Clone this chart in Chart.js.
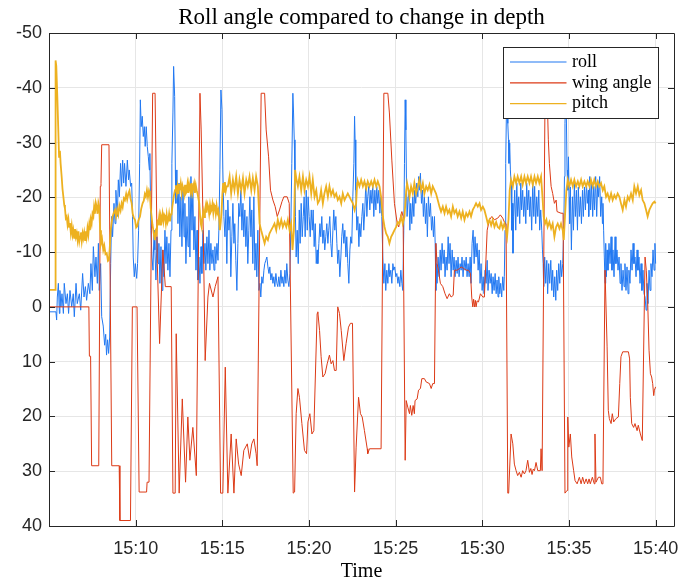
<!DOCTYPE html>
<html>
<head>
<meta charset="utf-8">
<script src="https://cdn.jsdelivr.net/npm/chart.js@4/dist/chart.umd.min.js"></script>
<style>
  html, body { margin: 0; padding: 0; background: #ffffff; }
  #wrap { width: 680px; height: 582px; }
</style>
</head>
<body>
<div id="wrap"><canvas id="chart" width="680" height="582"></canvas></div>
<script>
// Time is given in minutes after 15:00.
const tickMinutes = [10, 15, 20, 25, 30, 35, 40];
const tickLabels = ['15:10', '15:15', '15:20', '15:25', '15:30', '15:35', '15:40'];
const chartTitle = 'Roll angle compared to change in depth';

// Roll angle (deg)
const rollT = [
  5.00,5.40,5.44,5.48,5.54,5.60,5.63,5.69,5.75,5.83,5.88,5.98,6.06,6.13,6.21,6.31,6.40,6.46,6.56,6.63,
  6.75,6.83,6.94,7.02,7.10,7.17,7.27,7.36,7.42,7.50,7.56,7.65,7.71,7.79,7.85,7.90,7.98,8.04,8.13,8.21,
  8.27,8.32,8.38,8.44,8.50,8.56,8.61,8.67,8.75,8.81,8.86,8.94,9.00,9.06,9.13,9.19,9.25,9.31,9.36,9.44,
  9.52,9.59,9.63,9.71,9.77,9.82,9.86,9.92,9.98,10.06,10.11,10.17,10.23,10.27,10.32,10.38,10.44,10.50,10.55,10.61,
  10.67,10.73,10.79,10.82,10.88,10.94,11.00,11.06,11.11,11.17,11.23,11.29,11.34,11.40,11.46,11.52,11.57,11.63,11.69,11.75,
  11.80,11.86,11.92,11.98,12.04,12.09,12.15,12.19,12.25,12.29,12.32,12.38,12.44,12.50,12.55,12.61,12.67,12.73,12.79,12.84,
  12.90,12.96,13.02,13.07,13.13,13.19,13.25,13.30,13.36,13.42,13.48,13.54,13.59,13.65,13.71,13.77,13.82,13.88,13.94,14.00,
  14.05,14.11,14.17,14.23,14.28,14.34,14.40,14.46,14.52,14.57,14.63,14.69,14.75,14.80,14.86,14.92,14.98,15.03,15.09,15.15,
  15.21,15.26,
  15.32,15.38,15.44,15.49,15.55,15.61,15.67,15.72,15.78,15.84,15.90,15.95,16.01,16.07,16.13,16.19,16.24,16.30,16.36,16.42,
  16.47,16.53,16.59,16.65,16.70,16.76,16.82,16.88,16.94,16.99,17.05,17.11,17.17,17.22,17.28,17.34,17.40,17.45,17.51,17.57,
  17.63,17.69,17.74,17.80,17.86,17.92,17.97,18.03,18.09,18.15,18.20,18.26,18.32,18.38,18.44,18.49,18.55,18.61,18.67,18.72,
  18.78,18.84,18.90,18.95,19.01,19.07,19.11,19.15,19.19,19.22,19.26,19.32,19.38,19.44,19.49,19.55,19.61,19.67,19.72,19.78,
  19.84,19.90,19.95,20.01,20.07,20.13,20.19,20.24,20.30,20.36,20.42,20.47,
  20.51,20.57,20.63,20.68,20.74,20.80,20.86,20.91,20.97,21.03,21.09,21.14,21.20,21.26,21.32,21.38,21.43,21.49,21.55,21.61,
  21.66,21.72,21.78,21.84,21.89,21.95,22.01,22.07,22.13,22.18,22.24,22.30,22.36,22.41,22.47,22.53,22.59,22.63,22.66,22.70,
  22.76,22.82,22.88,22.93,22.99,23.05,23.11,23.16,23.22,23.28,23.34,23.39,23.45,23.51,23.57,23.63,23.68,23.74,23.80,23.86,
  23.91,23.97,24.03,24.09,24.14,24.20,24.26,24.32,24.38,24.43,24.49,24.55,24.61,24.66,24.72,24.78,24.84,24.89,24.95,25.01,
  25.07,25.13,25.18,25.24,25.30,25.36,25.41,25.47,25.51,25.55,25.59,25.63,25.66,
  25.72,25.76,25.82,25.87,25.93,25.99,26.05,26.10,26.16,26.22,26.28,26.33,26.39,26.43,26.49,26.55,26.60,26.66,26.72,26.78,
  26.83,26.89,26.95,27.01,27.07,27.12,27.18,27.24,27.28,27.32,27.35,27.39,27.45,27.51,27.57,27.62,27.68,27.74,27.80,27.85,
  27.91,27.97,28.03,28.08,28.14,28.20,28.26,28.32,28.37,28.43,28.49,28.55,28.60,28.66,28.72,28.78,28.83,28.89,28.95,29.01,
  29.07,29.12,29.18,29.24,29.30,29.35,29.41,29.47,29.53,29.58,29.64,29.70,29.76,29.82,29.87,29.93,29.99,30.05,30.10,30.16,
  30.22,30.28,30.33,30.39,30.45,30.51,30.57,30.62,30.68,30.74,30.80,30.85,
  30.91,30.95,31.01,31.06,31.12,31.18,31.24,31.27,31.31,31.35,31.39,31.43,31.47,31.51,31.54,31.58,31.62,31.66,31.70,31.74,
  31.77,31.81,31.87,31.93,31.99,32.04,32.10,32.16,32.22,32.27,32.33,32.39,32.45,32.51,32.56,32.62,32.68,32.74,32.79,32.85,
  32.91,32.97,33.02,33.08,33.14,33.20,33.26,33.31,33.37,33.43,33.47,33.51,33.54,33.60,33.66,33.72,33.77,33.83,33.89,33.95,
  34.01,34.06,34.12,34.18,34.24,34.29,34.35,34.41,34.47,34.52,34.58,34.64,34.70,34.74,34.77,34.81,34.85,34.89,34.93,34.97,
  35.01,35.04,35.08,35.14,35.20,35.26,35.31,35.37,35.43,35.49,35.54,35.60,35.66,35.72,35.78,35.83,35.89,35.95,36.01,36.06,
  36.12,36.14,36.20,36.25,36.31,36.37,36.43,36.48,36.54,36.60,36.66,36.71,36.77,36.83,36.89,36.93,36.96,37.00,37.04,37.08,
  37.12,37.16,37.20,37.25,37.31,37.37,37.43,37.48,37.54,37.60,37.66,37.71,37.77,37.83,37.89,37.95,38.00,38.06,38.12,38.18,
  38.23,38.29,38.35,38.41,38.46,38.52,38.58,38.64,38.70,38.75,38.81,38.87,38.93,38.98,39.04,39.10,39.16,39.21,39.27,39.33,
  39.39,39.45,39.50,39.56,39.62,39.68,39.73,39.79,39.85,39.91,39.96,40.00
];
const rollV = [
  0.9,0.9,2.4,-1.8,-4.3,1.2,-3.0,0,-2.4,1.2,-4.3,-0.6,-2.4,1.2,-3.0,0,-2.4,1.8,-4.3,-0.6,
  -2.4,0.6,-6.1,-1.8,-3.7,-1.2,-4.3,-2.4,-7.9,-3.0,-11.0,-5.5,-9.1,-4.3,-11.6,-3.0,-7.9,1.8,3.5,7.0,
  5.0,8.8,6.0,8.5,5.5,-7.9,-16.5,-12.8,-18.9,-15.2,-21.3,-16.5,-23.2,-20.1,-26.2,-22.0,-26.8,-22.6,-26.2,-22.0,
  -26.8,-23.2,-25.0,-22.0,-22.6,-16.5,-9.1,-5.5,-7.9,-5.2,-7.9,-14.0,-26.2,-37.8,-32.9,-34.8,-31.1,-32.9,-29.3,-32.9,
  -29.3,-27.4,-25.0,-28.0,-14.0,-9.1,-6.7,-14.0,-10.4,-4.9,-12.8,-7.9,-11.6,-4.3,-11.0,-3.0,-10.4,-5.5,-14.0,-7.9,
  -12.8,-6.7,-11.6,-5.5,-14.0,-26.2,-35.4,-43.9,-38.4,-25.0,-18.9,-25.0,-15.2,-22.6,-12.8,-20.1,-11.0,-21.9,-12.8,-18.9,
  -7.9,-16.5,-11.0,-20.1,-9.1,-23.8,-14.0,-21.3,-10.4,-16.5,-6.7,-14.0,-4.9,-9.1,-4.3,-11.0,-6.1,-14.0,-7.9,-11.6,
  -6.7,-12.8,-7.9,-14.0,-6.7,-11.6,-7.9,-10.4,-6.7,-11.0,-7.9,-11.6,-8.5,-14.0,-25.0,-39.6,-36.0,-25.0,-16.5,-12.8,
  -17.7,-7.9,
  -19.5,-14.0,-16.5,-5.5,-12.8,-18.9,-11.6,-15.2,-8.5,-3.0,-11.6,-18.9,-16.5,-21.3,-14.0,-18.9,-12.8,-17.7,-11.0,-16.5,
  -7.9,-14.0,-20.1,-12.8,-17.7,-7.9,-20.1,-6.7,-11.6,-5.5,-14.0,-3.0,-4.3,-1.8,-5.5,-4.3,-6.7,-7.9,-8.5,-9.1,
  -7.3,-6.1,-7.3,-4.9,-6.1,-4.3,-5.5,-3.7,-6.1,-4.3,-3.7,-5.5,-3.7,-6.7,-4.3,-5.5,-3.7,-6.7,-4.3,-7.9,
  -4.9,-3.7,-6.1,-14.0,-26.2,-39.0,-35.4,-30.5,-25.0,-16.5,-9.1,-14.0,-7.9,-17.7,-11.6,-18.9,-12.8,-16.5,-20.1,-12.8,
  -21.3,-14.0,-20.1,-16.5,-12.8,-17.7,-14.0,-17.7,-11.0,-15.2,-7.9,-10.4,
  -7.9,-11.6,-15.2,-12.8,-16.5,-11.6,-14.0,-10.4,-12.8,-15.2,-11.6,-14.0,-16.5,-11.6,-9.1,-14.0,-17.7,-14.0,-16.5,-11.6,
  -7.9,-10.4,-5.5,-9.1,-12.8,-15.2,-11.6,-14.0,-9.1,-12.8,-7.9,-4.3,-10.4,-12.8,-11.6,-20.1,-26.2,-34.8,-30.5,-21.3,
  -14.0,-16.5,-11.0,-15.2,-12.8,-16.5,-18.9,-14.0,-17.7,-22.6,-16.5,-20.1,-22.0,-17.7,-21.3,-18.9,-22.6,-16.5,-21.3,-17.7,
  -22.0,-18.9,-21.3,-17.1,-20.1,-16.5,-9.1,-4.3,-7.9,-3.0,-6.7,-4.3,-7.9,-5.5,-6.7,-4.3,-7.9,-6.7,-7.3,-5.5,
  -6.1,-4.3,-5.5,-3.7,-6.7,-4.3,-3.0,-14.0,-26.2,-37.8,-32.3,-21.3,-16.5,
  -20.1,-21.3,-14.0,-18.9,-15.2,-20.1,-16.5,-21.3,-18.9,-22.6,-20.1,-23.8,-21.3,-24.4,-18.9,-21.3,-16.5,-20.1,-15.2,-18.9,
  -12.8,-20.1,-16.5,-18.9,-14.0,-16.5,-12.8,-16.5,-11.6,-3.0,-7.9,-4.3,-9.1,-5.5,-10.4,-6.7,-11.6,-7.9,-10.4,-5.5,
  -9.1,-6.7,-12.8,-7.9,-11.6,-5.5,-10.4,-6.7,-9.1,-5.5,-8.5,-6.1,-9.1,-5.5,-7.9,-6.7,-9.1,-5.5,-8.5,-6.7,
  -9.1,-5.5,-7.9,-5.5,-9.1,-4.3,-11.6,-14.0,-7.9,-12.8,-9.1,-11.6,-6.7,-10.4,-4.3,-7.9,-3.0,-5.5,-2.4,-6.7,
  -4.3,-8.5,-3.0,-6.7,-4.3,-6.1,-2.4,-5.5,-3.0,-6.1,-2.4,-4.9,
  -1.8,-5.5,-2.4,-4.3,-1.8,-5.5,-3.0,-5.5,-14.0,-26.2,-35.4,-37.8,-33.5,-30.5,-26.2,-29.9,-25.0,-22.6,-14.0,-18.9,
  -9.8,-16.5,-21.3,-14.0,-22.6,-16.5,-20.1,-15.2,-22.6,-17.7,-21.3,-16.5,-20.1,-15.2,-22.6,-17.7,-21.3,-16.5,-20.1,-14.0,
  -22.6,-16.5,-22.0,-15.2,-20.1,-16.5,-21.3,-14.0,-17.7,-14.0,-10.4,-7.9,-3.7,-9.1,-4.3,-8.5,-2.4,-7.9,-4.3,-8.5,
  -3.0,-6.7,-1.8,-5.5,-1.2,-6.7,-3.0,-7.9,-4.3,-8.5,-5.5,-7.9,-14.0,-23.8,-33.5,-38.4,-34.8,-25.0,-21.3,-27.4,
  -20.1,-15.2,-21.9,-10.4,-20.1,-14.0,-22.6,-16.5,-21.3,-14.0,-21.9,-16.5,-20.1,-15.2,-21.3,-16.5,-21.9,-17.7,-22.6,-18.9,
  -21.3,-16.5,-23.8,-17.7,-22.6,-16.5,-22.0,-17.7,-23.8,-16.5,-22.6,-20.1,-23.8,-16.5,-20.1,-15.2,-18.9,-14.0,-9.1,-4.3,
  -11.6,-5.5,-10.4,-6.7,-11.6,-7.9,-12.8,-6.7,-10.4,-5.5,-12.8,-7.9,-10.4,-6.7,-9.1,-4.3,-7.9,-3.0,-6.7,-3.7,
  -7.9,-3.0,-7.3,-2.4,-6.7,-4.3,-10.4,-6.7,-11.6,-7.9,-9.1,-5.5,-10.4,-6.7,-9.1,-4.3,-7.9,-3.0,-6.7,-2.4,
  -1.8,0.6,-4.3,-0.6,-6.7,-3.0,-7.9,-5.5,-10.4,-6.7,-11.6,-7.9
];

// Wing angle (deg)
const wingT = [
  5.00,7.30,7.33,7.40,7.46,7.87,7.96,8.00,8.04,8.46,8.62,9.05,9.09,9.70,9.81,10.08,10.20,10.63,10.66,10.77,
  10.98,11.12,11.25,11.38,11.57,11.71,12.05,12.15,12.28,12.34,12.51,12.69,12.88,13.01,13.13,13.30,13.50,13.71,13.78,13.90,
  14.01,14.17,14.26,14.46,14.59,14.75,14.90,15.03,15.17,15.32,15.51,15.67,15.80,15.94,16.09,16.24,16.44,16.57,16.70,16.82,
  16.95,17.01,17.24,17.44,17.53,17.67,17.78,17.92,18.05,18.17,18.30,18.44,18.55,18.74,18.86,19.09,19.17,19.26,19.36,19.45,
  19.59,19.74,19.86,19.94,20.05,20.17,20.28,20.47,20.51,20.61,20.70,20.80,20.93,21.05,21.18,21.28,21.38,21.47,21.57,21.66,
  21.76,21.86,22.01,22.14,22.28,22.39,22.51,22.63,22.72,22.86,22.97,23.07,23.20,23.36,23.39,23.49,24.16,24.32,24.55,24.64,
  24.78,24.93,25.09,25.18,25.28,25.36,25.43,25.55,25.61,25.70,25.80,25.85,25.93,26.01,26.08,26.12,26.24,26.32,26.43,26.51,
  26.66,26.76,26.95,27.05,27.14,27.24,27.32,27.39,27.47,27.58,27.72,27.85,27.97,28.10,28.20,28.32,28.39,28.55,28.68,28.78,
  28.93,29.07,29.20,29.32,29.39,29.45,29.50,29.55,29.60,29.64,29.70,29.78,29.89,30.03,30.12,30.28,30.41,30.55,30.70,30.89,
  31.04,31.18,31.27,31.37,31.47,31.52,31.66,31.76,31.85,31.95,32.04,32.14,32.24,32.33,32.43,32.52,32.62,32.72,32.80,32.87,
  32.94,33.01,33.10,33.20,33.35,33.39,33.45,33.62,33.74,33.81,33.87,33.97,34.06,34.16,34.26,34.31,34.54,34.66,34.77,34.89,
  34.93,34.99,35.08,35.16,35.27,35.35,35.47,35.60,35.70,35.79,35.89,35.99,36.08,36.16,36.23,36.35,36.46,36.50,36.56,36.70,
  36.81,36.89,36.96,37.08,37.20,37.27,37.33,37.43,37.50,37.58,37.71,37.85,37.93,38.00,38.10,38.43,38.50,38.54,38.62,38.73,
  38.81,38.93,39.00,39.12,39.23,39.39,39.46,39.54,39.62,39.70,39.77,39.83,39.89,39.93,40.00
];
const wingV = [
  0,0,9,9,29,29,-22,-22.5,-29.6,-29.6,29,29,39,39,0,0,33.8,33.8,32,32,
  -39,-39,-7.9,6.7,-10.4,-3.7,-3.7,34,34,4.9,34,16.8,32,20.1,28,22,30.8,-39,-32.3,-14,
  9.8,-1.8,-4.3,-1.8,-3.7,-5.5,34,34,11,34,23.2,34,24.1,28.7,30.8,26.2,25,27.7,25,24.1,
  26.8,29,-39,-39,-32.3,-27.4,-21.3,-19.5,-18.3,-16.5,-17.7,-19.2,-20.1,-20.1,-18.9,34,33.8,19.5,14.9,16.5,
  21.3,26.2,26.8,21,19.5,23.2,22.6,1.2,0.9,4.3,9.1,12.8,12.2,10.4,8.8,10.4,9.8,11.6,11.6,0,
  1.2,4.3,9.8,6.7,3.7,3,3,33.8,25.6,16.5,19.5,20.1,22.6,25.9,26.8,25.9,25.9,-39,-39,-35.4,
  -26.8,-18.9,-15.2,-14.6,-16.5,-17.4,-16.5,28,17.1,18.3,19.5,18,19.8,18,19.5,17.1,16.8,15.2,14.9,13.1,
  13.1,13.7,14,14.9,14,14,-11.6,-7.9,-6.7,-4.3,-3.7,-2.4,-1.5,-2.4,-1.8,-2.1,-6.7,-6.7,-7,-7.3,
  -7,-6.7,-6.7,-6.1,-1.8,0,-1.4,0,-1.2,0,-1.1,-0.9,-2.4,-1.8,-1.8,-14,-15.9,-16.5,-15.9,-16.2,
  -16.8,-16.2,-15.5,-15.2,34,34,23.2,25,28.7,29.9,30.8,30.2,31.1,29.9,30.5,29.9,28,30.2,29.5,30.6,
  29.6,29.9,28.4,29.9,29.9,25.9,29.9,-39,-39,-30.5,-26.2,-22,-20.7,-18.9,-19.5,-17.4,-17.1,-17.1,34,33.5,
  20.1,25.6,23.2,27.4,29.9,31.7,32.3,31.1,32.3,31.1,32.3,31.4,32.3,31.4,32.3,31.1,32.3,23.2,32,31.1,
  31.1,32.3,32.3,-6.7,7.3,18.9,20.4,21.3,19.5,21,20.4,20.1,14,9.1,8.2,8.2,9.5,16.5,21.3,22,
  21.3,22.6,21.6,23.2,24.4,-9.1,-6.7,-1.2,7.9,12.2,12.8,14,16.2,15.2,14.6
];

// Pitch angle (deg)
const pitchT = [
  5.00,5.35,5.38,5.42,5.48,5.53,5.58,5.63,5.67,5.73,5.78,5.83,5.88,5.92,5.97,6.02,6.07,6.12,6.16,6.21,
  6.26,6.31,6.36,6.40,6.45,6.50,6.55,6.60,6.65,6.70,6.75,6.79,6.84,6.89,6.94,6.98,7.03,7.08,7.13,7.17,
  7.22,7.27,7.32,7.36,7.41,7.46,7.51,7.56,7.60,7.65,7.70,7.75,7.80,7.85,7.90,7.95,8.00,8.06,8.13,8.19,
  8.26,8.33,8.40,8.46,8.51,8.56,8.62,8.67,8.74,8.81,8.87,8.94,9.00,9.06,9.13,9.19,9.25,9.32,9.38,9.45,
  9.51,9.58,9.64,9.70,9.77,9.83,9.90,9.96,10.03,10.09,10.16,10.25,10.32,10.40,10.47,10.53,10.59,10.65,10.71,10.77,
  10.82,10.87,10.92,10.97,11.02,11.06,11.11,11.16,11.21,11.26,11.31,11.36,11.41,11.46,11.50,11.55,11.60,11.65,11.69,11.74,
  11.79,11.84,11.88,11.93,11.98,12.03,12.07,12.12,12.17,12.22,12.27,12.32,12.37,12.42,12.47,12.51,12.55,12.60,12.65,12.70,
  12.75,12.80,12.85,12.89,12.94,12.99,13.04,13.08,13.13,13.18,13.23,13.28,13.32,13.37,13.42,13.47,13.52,13.58,13.63,13.67,
  13.72,13.77,13.80,13.85,13.90,13.95,14.00,14.05,14.09,14.14,14.19,14.24,14.29,14.34,14.38,14.43,14.48,14.53,14.57,14.62,
  14.67,14.72,14.77,14.82,14.86,14.91,14.96,15.00,15.05,15.10,15.15,15.20,15.25,
  15.32,15.42,15.51,15.61,15.70,15.80,15.90,15.99,16.09,16.19,16.28,16.38,16.47,16.57,16.67,16.76,16.86,16.95,17.05,17.15,
  17.24,17.34,17.44,17.53,17.63,17.72,17.82,17.92,18.01,18.11,18.20,18.30,18.40,18.49,18.59,18.69,18.78,18.88,18.97,19.05,
  19.13,19.20,19.28,19.36,19.45,19.55,19.65,19.74,19.84,19.94,20.03,20.13,20.22,20.32,20.42,20.51,
  20.61,20.70,20.80,20.89,20.99,21.09,21.18,21.28,21.38,21.47,21.57,21.66,21.76,21.86,21.95,22.05,22.14,22.24,22.34,22.43,
  22.53,22.63,22.72,22.78,22.82,22.91,23.01,23.11,23.20,23.30,23.39,23.49,23.59,23.68,23.78,23.88,23.97,24.07,24.16,24.26,
  24.36,24.45,24.55,24.64,24.74,24.84,24.93,25.03,25.13,25.22,25.32,25.41,25.51,25.61,25.66,25.74,
  25.80,25.89,25.99,26.08,26.18,26.28,26.37,26.47,26.57,26.66,26.76,26.85,26.95,27.05,27.14,27.24,27.33,27.43,27.53,27.62,
  27.72,27.82,27.91,28.01,28.10,28.20,28.30,28.39,28.49,28.58,28.68,28.78,28.87,28.97,29.07,29.16,29.26,29.35,29.45,29.55,
  29.64,29.74,29.84,29.93,30.03,30.12,30.22,30.32,30.41,30.51,30.60,30.70,30.80,30.89,
  30.99,31.08,31.18,31.27,31.37,31.43,31.51,31.58,31.66,31.76,31.85,31.95,32.04,32.14,32.24,32.33,32.43,32.52,32.62,32.72,
  32.81,32.91,33.01,33.10,33.20,33.29,33.39,33.47,33.54,33.62,33.70,33.77,33.87,33.97,34.06,34.16,34.26,34.35,34.45,34.54,
  34.64,34.70,34.77,34.85,34.93,35.02,35.12,35.22,35.31,35.41,35.51,35.60,35.70,35.79,35.89,35.99,36.08,
  36.18,36.27,36.37,36.46,36.56,36.66,36.75,36.85,36.95,37.04,37.14,37.23,37.33,37.43,37.52,37.62,37.71,37.81,37.91,38.00,
  38.10,38.20,38.29,38.39,38.48,38.58,38.68,38.77,38.87,38.97,39.06,39.16,39.25,39.35,39.45,39.54,39.64,39.73,39.83,39.93,
  40.00
];
const pitchV = [
  -3.1,-3.1,-45.0,-44.0,-38.4,-33.0,-27.4,-28.5,-26.2,-23.8,-21.5,-20.1,-18.6,-18.0,-16.2,-16.5,-15.0,-16.0,-14.6,-15.3,
  -13.5,-14.8,-13.2,-14.0,-12.6,-14.2,-12.8,-13.5,-12.2,-13.8,-12.0,-12.8,-13.6,-12.0,-13.4,-12.6,-13.6,-12.2,-13.8,-12.8,
  -14.4,-13.2,-15.0,-14.0,-16.0,-15.2,-17.0,-16.5,-18.2,-17.0,-19.0,-18.3,-17.0,-19.0,-18.3,-14.0,-11.6,-12.4,-10.4,-11.2,
  -9.6,-9.8,-8.4,-8.6,-11.0,-14.0,-15.5,-16.5,-17.2,-17.7,-16.5,-17.8,-16.9,-18.5,-17.6,-18.9,-18.2,-19.8,-19.5,-20.6,
  -19.6,-20.7,-21.2,-19.8,-18.9,-17.0,-16.2,-15.9,-14.5,-14.7,-15.8,-16.5,-17.9,-18.9,-19.4,-20.6,-20.1,-21.3,-20.0,-21.2,
  -20.7,-18.0,-16.5,-15.0,-14.0,-13.0,-12.2,-13.8,-13.4,-15.6,-15.3,-16.6,-15.0,-16.4,-15.8,-17.0,-15.6,-16.8,-16.5,-15.2,
  -16.8,-15.4,-15.8,-17.0,-15.6,-16.9,-16.9,-18.4,-19.5,-20.6,-21.3,-22.2,-20.8,-22.0,-20.6,-22.4,-21.3,-22.5,-20.8,-22.2,
  -21.6,-20.6,-22.3,-20.7,-21.0,-22.4,-20.8,-22.5,-21.6,-20.8,-22.6,-21.0,-21.9,-22.6,-20.8,-22.2,-21.3,-20.5,-19.6,-18.9,
  -16.5,-15.0,-14.6,-16.2,-17.4,-16.4,-17.7,-18.6,-17.2,-18.8,-18.3,-17.0,-18.6,-17.4,-17.7,-18.8,-17.2,-18.6,-18.3,-17.0,
  -18.5,-17.2,-17.7,-16.0,-14.0,-15.5,-17.7,-20.5,-22.6,-21.0,-22.8,-21.2,-22.0,
  -22.0,-23.8,-20.7,-23.2,-21.3,-23.8,-20.7,-23.2,-21.3,-23.5,-20.7,-23.2,-22.0,-23.8,-21.3,-23.5,-21.3,-23.8,-22.0,-15.2,
  -14.0,-12.8,-11.6,-12.8,-12.2,-13.4,-14.0,-14.6,-15.2,-14.0,-15.9,-14.6,-15.9,-14.6,-15.5,-14.6,-15.9,-14.0,-15.2,-10.4,
  -14.0,-25.0,-23.2,-22.0,-23.8,-21.3,-23.8,-21.3,-23.2,-22.0,-23.8,-20.7,-23.2,-20.1,-21.3,-18.9,
  -19.5,-21.3,-18.9,-20.7,-22.0,-20.1,-22.0,-20.4,-21.3,-20.1,-20.7,-19.5,-20.1,-18.9,-20.7,-19.5,-20.1,-20.7,-20.1,-19.5,
  -18.9,-17.7,-18.9,-22.6,-22.9,-22.0,-23.2,-22.0,-22.9,-21.6,-22.9,-22.0,-22.9,-22.0,-23.2,-22.0,-22.9,-22.0,-20.1,-16.5,
  -14.6,-13.4,-12.8,-11.6,-12.8,-13.4,-14.0,-14.6,-15.5,-15.2,-16.5,-15.2,-16.5,-21.3,-22.6,-21.3,
  -20.1,-22.0,-20.7,-22.6,-20.7,-22.0,-23.2,-21.3,-22.6,-20.7,-22.0,-21.3,-22.3,-20.7,-22.0,-21.3,-20.7,-19.5,-18.3,-17.4,
  -18.3,-17.1,-18.3,-17.1,-17.7,-16.5,-18.3,-17.1,-17.7,-16.5,-17.4,-16.2,-17.4,-15.9,-17.1,-16.5,-17.4,-16.5,-17.7,-18.3,
  -18.9,-18.3,-18.9,-17.7,-18.3,-17.7,-16.5,-15.2,-15.9,-14.9,-15.9,-14.6,-15.5,-14.6,
  -14.3,-15.5,-14.3,-15.2,-14.0,-12.8,-15.9,-21.3,-23.2,-22.0,-23.8,-22.6,-23.8,-22.6,-23.8,-22.3,-23.8,-22.6,-23.8,-22.6,
  -23.8,-22.3,-23.8,-22.6,-23.8,-22.6,-23.8,-20.1,-16.5,-15.2,-15.9,-14.6,-15.5,-14.3,-15.2,-12.8,-14.6,-15.2,-14.3,-15.2,
  -14.0,-12.2,-16.5,-21.3,-23.2,-22.0,-23.2,-22.0,-23.2,-22.0,-22.9,-22.0,-23.2,-22.0,-22.9,-22.0,-22.9,
  -22.0,-23.2,-22.0,-23.2,-22.0,-22.9,-22.0,-22.6,-21.3,-22.0,-20.1,-20.7,-19.5,-20.7,-19.5,-20.4,-19.8,-20.7,-20.1,-18.9,
  -17.7,-19.5,-18.3,-20.1,-19.5,-20.7,-19.5,-22.0,-20.7,-22.0,-20.4,-21.3,-19.5,-18.9,-17.7,-16.5,-17.7,-18.3,-18.9,-19.2,
  -18.9
];

const toPoints = (ts, vs) => ts.map((t, i) => ({ x: t, y: vs[i] }));

const ROLL_COLOR = '#2178f2';
const WING_COLOR = '#dc3a16';
const PITCH_COLOR = '#edb120';
const AXIS_COLOR = '#262626';
const SERIF = '"Liberation Serif", "Times New Roman", serif';

// Title centred over the axes, box around the axes, inward tick marks and the in-plot legend.
const axesDecor = {
  id: 'axesDecor',
  afterDatasetsDraw(chart) {
    const { ctx, chartArea: a, scales } = chart;
    ctx.save();

    ctx.fillStyle = '#000000';
    ctx.font = '23px ' + SERIF;
    ctx.textAlign = 'center';
    ctx.textBaseline = 'middle';
    ctx.fillText(chartTitle, (a.left + a.right) / 2, 17.5);

    ctx.strokeStyle = AXIS_COLOR;
    ctx.lineWidth = 1;
    ctx.beginPath();
    ctx.rect(Math.round(a.left) + 0.5, Math.round(a.top) + 0.5,
             Math.round(a.right - a.left), Math.round(a.bottom - a.top));
    ctx.stroke();

    const tl = 6;
    ctx.beginPath();
    tickMinutes.forEach(m => {
      const x = Math.round(scales.x.getPixelForValue(m)) + 0.5;
      ctx.moveTo(x, a.bottom); ctx.lineTo(x, a.bottom - tl);
      ctx.moveTo(x, a.top); ctx.lineTo(x, a.top + tl);
    });
    scales.y.ticks.forEach(t => {
      const y = Math.round(scales.y.getPixelForValue(t.value)) + 0.5;
      ctx.moveTo(a.left, y); ctx.lineTo(a.left + tl, y);
      ctx.moveTo(a.right, y); ctx.lineTo(a.right - tl, y);
    });
    ctx.stroke();

    // legend
    const items = [
      { label: 'roll', color: ROLL_COLOR },
      { label: 'wing angle', color: WING_COLOR },
      { label: 'pitch', color: PITCH_COLOR }
    ];
    const bw = 155, bh = 71;
    const bx = Math.round(a.right - 16 - bw) + 0.5;
    const by = Math.round(a.top + 14) + 0.5;
    ctx.fillStyle = '#ffffff';
    ctx.fillRect(bx, by, bw, bh);
    ctx.strokeStyle = AXIS_COLOR;
    ctx.strokeRect(bx, by, bw, bh);
    ctx.font = '18px ' + SERIF;
    ctx.textBaseline = 'middle';
    ctx.textAlign = 'left';
    items.forEach((it, i) => {
      const y = by + 14.5 + i * 20.8;
      ctx.strokeStyle = it.color;
      ctx.lineWidth = 1.2;
      ctx.beginPath();
      ctx.moveTo(bx + 6.5, y);
      ctx.lineTo(bx + 63, y);
      ctx.stroke();
      ctx.fillStyle = '#000000';
      ctx.fillText(it.label, bx + 68.5, y);
    });
    ctx.restore();
  }
};

new Chart(document.getElementById('chart'), {
  type: 'line',
  data: {
    datasets: [
      { label: 'roll', data: toPoints(rollT, rollV), borderColor: ROLL_COLOR, borderWidth: 1, order: 3 },
      { label: 'wing angle', data: toPoints(wingT, wingV), borderColor: WING_COLOR, borderWidth: 1, order: 2 },
      { label: 'pitch', data: toPoints(pitchT, pitchV), borderColor: PITCH_COLOR, borderWidth: 1.8, order: 1 }
    ]
  },
  options: {
    responsive: false,
    animation: false,
    devicePixelRatio: 1,
    parsing: false,
    layout: { padding: { top: 33, right: 6, left: 0, bottom: 0 } },
    elements: {
      point: { radius: 0 },
      line: { tension: 0, fill: false }
    },
    plugins: {
      legend: { display: false },
      tooltip: { enabled: false },
      title: { display: false }
    },
    scales: {
      x: {
        type: 'linear',
        min: 5.0,
        max: 41.06,
        afterBuildTicks: s => { s.ticks = tickMinutes.map(v => ({ value: v })); },
        afterFit: s => { s.height = 56; s.paddingLeft = 0; s.paddingRight = 0; },
        grid: { color: '#e6e6e6', lineWidth: 1, drawTicks: false },
        border: { display: false },
        ticks: {
          color: AXIS_COLOR,
          padding: 12,
          maxRotation: 0,
          autoSkip: false,
          font: { family: '"Liberation Sans", Arial, sans-serif', size: 18 },
          callback: v => tickLabels[tickMinutes.indexOf(v)] ?? ''
        },
        title: {
          display: true,
          text: 'Time',
          color: '#000000',
          font: { family: SERIF, size: 20, lineHeight: 1.0 },
          padding: { top: 0, bottom: 0 }
        }
      },
      y: {
        type: 'linear',
        reverse: true,
        min: -50,
        max: 40,
        afterFit: s => { s.width = 49; s.paddingTop = 0; s.paddingBottom = 0; },
        grid: { color: '#e6e6e6', lineWidth: 1, drawTicks: false },
        border: { display: false },
        ticks: {
          stepSize: 10,
          color: AXIS_COLOR,
          padding: 7,
          font: { family: '"Liberation Sans", Arial, sans-serif', size: 18 }
        }
      }
    }
  },
  plugins: [axesDecor]
});
</script>
</body>
</html>
